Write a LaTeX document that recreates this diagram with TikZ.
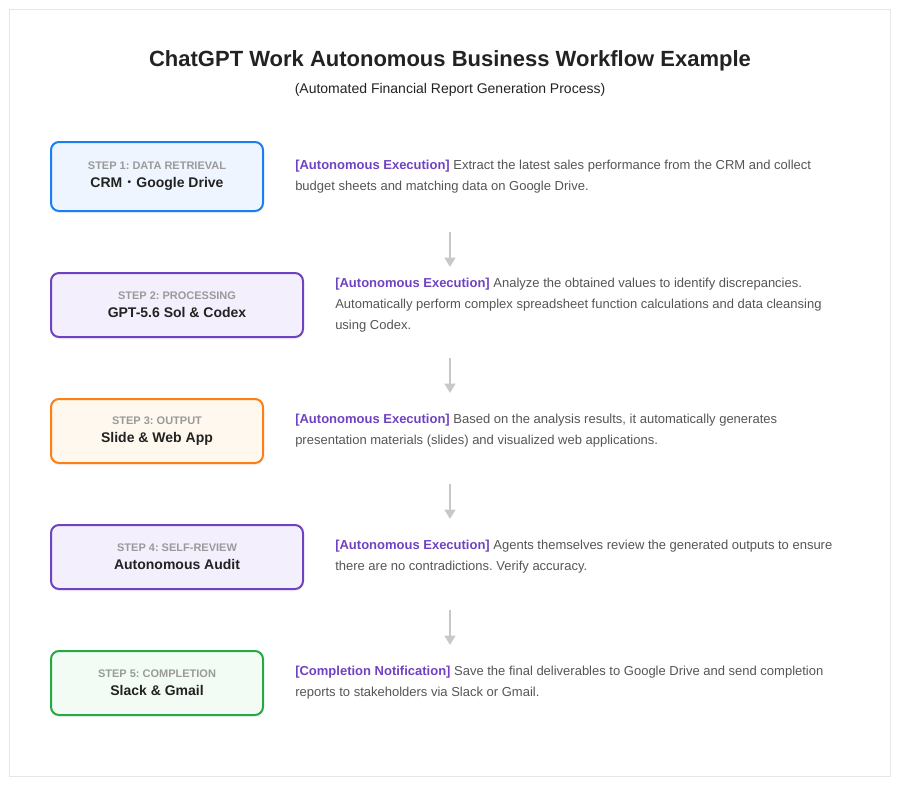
\documentclass[tikz,border=0pt]{standalone}
\usepackage{fontspec}
\setmainfont{Liberation Sans}
\newfontfamily\cjk{Noto Sans CJK JP}
\usetikzlibrary{positioning,arrows.meta,shadows}
\frenchspacing
\definecolor{stepblue}{HTML}{1A7FF0}
\definecolor{fillblue}{HTML}{EEF5FF}
\definecolor{steppurple}{HTML}{6F42C1}
\definecolor{fillpurple}{HTML}{F3EFFD}
\definecolor{steporange}{HTML}{FD7E14}
\definecolor{fillorange}{HTML}{FEF8EE}
\definecolor{stepgreen}{HTML}{28A745}
\definecolor{fillgreen}{HTML}{F2FCF4}
\definecolor{labelgray}{HTML}{9A9A9A}
\definecolor{maintext}{HTML}{222222}
\definecolor{descgray}{HTML}{555555}
\definecolor{arrowgray}{HTML}{C8C8C8}
\definecolor{framegray}{HTML}{E6E6E6}
\newcommand{\exectag}[1]{\textcolor{steppurple}{\textbf{[#1]}}}
\newcommand{\steptext}[2]{{\fontsize{8.25}{13.5}\selectfont\color{labelgray}#1}\\{\color{maintext}#2}}

\begin{document}
\begin{tikzpicture}[x=0.75pt,y=-0.75pt,node distance=23.25pt,
	stepbox/.style={draw,line width=1.5pt,rounded corners=6pt,align=center,inner sep=0pt,
		minimum height=48pt,font=\bfseries\fontsize{10.5}{13.5}\selectfont,
		drop shadow={shadow xshift=0pt,shadow yshift=-2pt,opacity=0.06}},
	narrow/.style={minimum width=159pt},
	wide/.style={minimum width=189pt},
	desc/.style={anchor=west,align=left,inner sep=0pt,text=descgray,font=\fontsize{9.75}{15.75}\selectfont},
	flow/.style={arrowgray,line width=1.5pt,-{Triangle[length=7pt,width=8pt]}}]
	\useasboundingbox (0,0) rectangle (900,785);
	\draw[framegray,line width=0.75pt] (9,9) rectangle (890,776);
	\node[font=\bfseries\fontsize{16.5}{20}\selectfont,text=maintext] (title) at (450,61) {ChatGPT Work Autonomous Business Workflow Example};
	\node[font=\fontsize{10.5}{13}\selectfont,text=maintext] (subtitle) at (450,90) {(Automated Financial Report Generation Process)};

	\node[stepbox,narrow,draw=stepblue,fill=fillblue,minimum height=51.75pt] (s1) at (157,176.5)
		{\steptext{STEP 1: DATA RETRIEVAL}{CRM{\cjk\mdseries ・}Google Drive}};
	\node[stepbox,wide,draw=steppurple,fill=fillpurple] (s2) at (177,305)
		{\steptext{STEP 2: PROCESSING}{GPT-5.6 Sol \& Codex}};
	\node[stepbox,narrow,draw=steporange,fill=fillorange] (s3) at (157,431)
		{\steptext{STEP 3: OUTPUT}{Slide \& Web App}};
	\node[stepbox,wide,draw=steppurple,fill=fillpurple] (s4) at (177,557)
		{\steptext{STEP 4: SELF-REVIEW}{Autonomous Audit}};
	\node[stepbox,narrow,draw=stepgreen,fill=fillgreen] (s5) at (157,683)
		{\steptext{STEP 5: COMPLETION}{Slack \& Gmail}};

	\node[desc] (d1) [right=of s1] {\exectag{Autonomous Execution} Extract the latest sales performance from the CRM and collect\\
		budget sheets and matching data on Google Drive.};
	\node[desc] (d2) [right=of s2] {\exectag{Autonomous Execution} Analyze the obtained values to identify discrepancies.\\
		Automatically perform complex spreadsheet function calculations and data cleansing\\
		using Codex.};
	\node[desc] (d3) [right=of s3] {\exectag{Autonomous Execution} Based on the analysis results, it automatically generates\\
		presentation materials (slides) and visualized web applications.};
	\node[desc] (d4) [right=of s4] {\exectag{Autonomous Execution} Agents themselves review the generated outputs to ensure\\
		there are no contradictions. Verify accuracy.};
	\node[desc] (d5) [right=of s5] {\exectag{Completion Notification} Save the final deliverables to Google Drive and send completion\\
		reports to stakeholders via Slack or Gmail.};

	\coordinate (a1) at (450,232);
	\coordinate (b1) at (450,267);
	\coordinate (a2) at (450,358);
	\coordinate (b2) at (450,393);
	\coordinate (a3) at (450,484);
	\coordinate (b3) at (450,519);
	\coordinate (a4) at (450,610);
	\coordinate (b4) at (450,645);
	\foreach \i in {1,...,4}
		\draw[flow] (a\i) -- (b\i);
\end{tikzpicture}
\end{document}
